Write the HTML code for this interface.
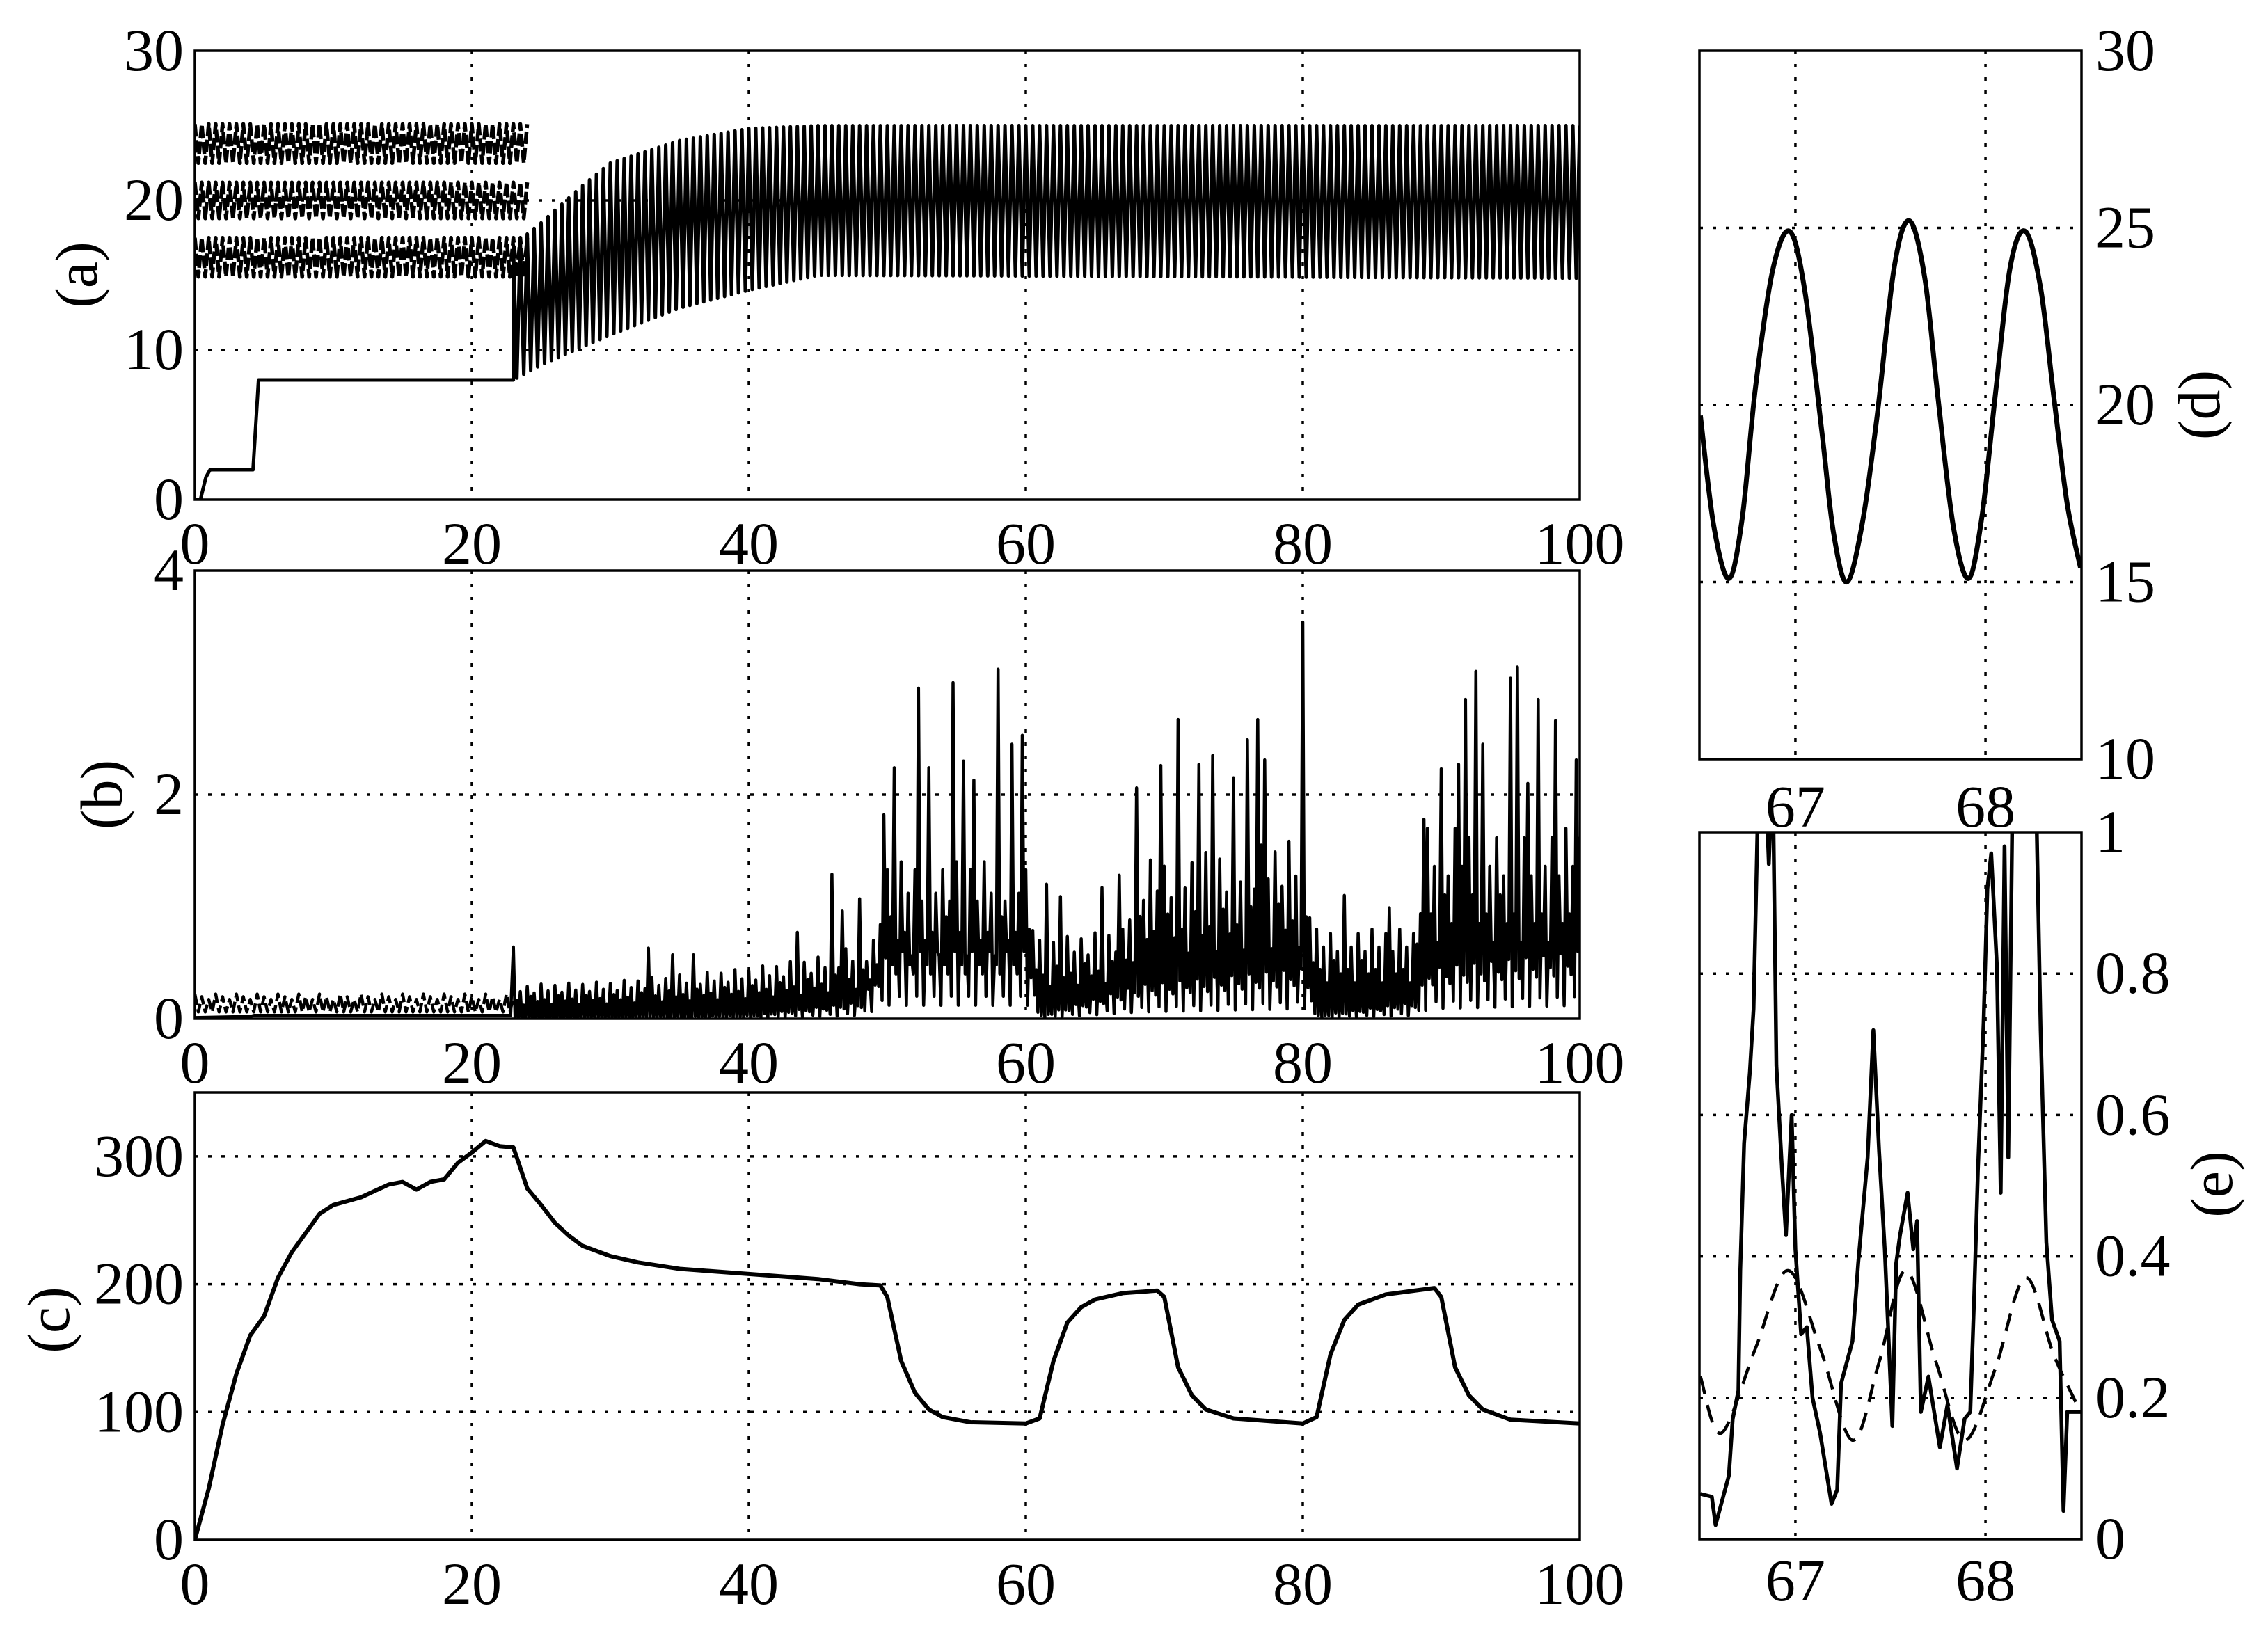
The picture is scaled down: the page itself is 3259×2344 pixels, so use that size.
<!DOCTYPE html>
<html><head><meta charset="utf-8"><style>
html,body{margin:0;padding:0;background:#fff;}
svg{display:block;}
text{font-family:"Liberation Serif","DejaVu Serif","Times New Roman",serif;font-size:86px;fill:#000;}
</style></head><body>
<svg id="chart" xmlns="http://www.w3.org/2000/svg" width="3259" height="2344" viewBox="0 0 3259 2344"></svg>
<script>
// ---------- DATA ----------
const PERIOD = 0.5;
// panel (a)
const aStepT = [0, 0.4, 0.8, 1.1, 4.2, 4.6, 23];
const aStepV = [0, 0, 1.5, 2, 2, 8, 8];
const aHiT = [23, 25, 28, 30, 35, 40, 45, 100];
const aHiV = [17, 18.5, 21, 22.5, 24, 24.8, 25, 25];
const aLoT = [23, 25, 30, 35, 40, 45, 100];
const aLoV = [8, 9, 11, 12.8, 14, 15, 14.8];
const aDashCenters = [23.8, 20, 16.2];
const aDashAmp = [1.3, 1.2, 1.3];
const aTicksY = [0, 10, 20, 30];
const xTicks = [0, 20, 40, 60, 80, 100];
// panel (b)
const bHiT = [23, 30, 40, 45, 49, 50, 60, 61, 67, 68, 80, 81, 88, 89, 100];
const bHiV = [0.3, 0.33, 0.45, 0.55, 0.7, 1.4, 1.4, 0.7, 0.8, 1.4, 1.6, 0.8, 0.8, 1.7, 1.7];
const bLoT = [23, 40, 48, 50, 60, 61, 68, 80, 81, 88, 89, 100];
const bLoV = [0.0, 0.02, 0.1, 0.4, 0.4, 0.02, 0.2, 0.3, 0.02, 0.1, 0.3, 0.4];
const bSpikeT = [22.9,32.8,34.5,35.9,43.5,45.9,46.7,47.9,49.7,50.4,52.3,53.0,54.7,55.5,56.2,57.9,59.1,59.8,61.5,62.4,65.5,66.7,68.0,69.8,71.0,72.5,73.6,74.9,76.1,76.7,77.3,80.0,83.0,86.2,88.7,90.0,91.2,91.8,92.5,93.1,94.9,95.6,96.3,96.9,98.3,98.9,99.7];
const bSpikeV = [0.64,0.63,0.57,0.57,0.77,1.29,0.96,1.07,1.82,2.24,2.95,2.24,3.0,2.3,2.13,3.12,2.45,2.53,1.2,1.09,1.17,1.28,2.06,2.26,2.67,2.27,2.35,2.15,2.49,2.67,2.31,3.54,1.1,0.99,1.78,2.23,2.27,2.85,3.1,2.45,3.04,3.14,2.1,2.85,2.66,1.67,2.31];
const bHiPattern = [1, 0.55, 0.8, 0.4, 0.95, 0.65, 0.75, 0.5];
const bLoPattern = [1, 0.5, 1.5, 0.3, 1.2];
const bTicksY = [0, 2, 4];
// panel (c)
const cT = [0,1,2,3,4,5,6,7,8,9,10,12,14,15,16,17,18,19,20,21,22,23,24,25,26,27,28,30,32,35,40,45,48,49.5,50,51,52,53,54,56,60,61,62,63,64,65,67,69.5,70,71,72,73,75,80,81,82,83,84,86,89.5,90,91,92,93,95,100];
const cV = [0,40,90,130,160,175,205,225,240,255,262,268,278,280,274,280,282,295,303,312,308,307,275,262,248,238,230,222,217,212,208,204,200,199,190,140,115,102,96,92,91,95,140,170,182,188,193,195,190,135,113,102,95,91,96,145,172,184,192,197,190,135,113,102,94,91];
const cTicksY = [0, 100, 200, 300];
// panel (d)
const dT = [66.5,66.57,66.65,66.72,66.79,66.88,66.97,67.05,67.14,67.2,67.27,67.35,67.43,67.52,67.6,67.68,67.75,67.83,67.91,67.98,68.05,68.13,68.21,68.29,68.36,68.43,68.5];
const dV = [19.7,16.6,15.1,16.8,20.5,23.8,24.9,23.2,19.2,16.4,15.0,16.6,19.7,23.9,25.2,23.6,20.2,16.6,15.1,16.8,20.2,23.9,24.9,23.3,20.2,17.2,15.4];
const dTicksY = [10, 15, 20, 25, 30];
const rTicksX = [67, 68];
// panel (e)
const eSolidT = [66.5,66.56,66.58,66.61,66.65,66.67,66.70,66.71,66.73,66.76,66.78,66.80,66.82,66.84,66.86,66.88,66.90,66.93,66.95,66.98,67.0,67.03,67.06,67.09,67.13,67.19,67.22,67.24,67.30,67.33,67.38,67.41,67.44,67.47,67.51,67.53,67.55,67.59,67.62,67.64,67.66,67.70,67.76,67.80,67.85,67.89,67.92,67.94,67.96,67.99,68.01,68.03,68.06,68.08,68.10,68.12,68.14,68.2,68.27,68.29,68.32,68.35,68.39,68.41,68.43,68.5];
const eSolidV = [0.064,0.06,0.02,0.05,0.09,0.17,0.21,0.38,0.56,0.66,0.75,1.0,1.2,1.1,0.955,1.1,0.67,0.52,0.43,0.60,0.41,0.29,0.30,0.20,0.15,0.05,0.07,0.22,0.28,0.39,0.54,0.72,0.55,0.41,0.16,0.39,0.43,0.49,0.41,0.45,0.18,0.23,0.13,0.19,0.10,0.17,0.18,0.34,0.52,0.73,0.92,0.97,0.81,0.49,0.98,0.54,1.0,1.25,1.0,0.72,0.42,0.31,0.28,0.04,0.18,0.18];
const eDashT = [66.5,66.61,66.79,66.96,67.13,67.30,67.44,67.58,67.74,67.89,68.05,68.21,68.36,68.5];
const eDashV = [0.23,0.15,0.27,0.38,0.27,0.14,0.25,0.38,0.25,0.14,0.24,0.37,0.26,0.18];
const eTicksY = [0, 0.2, 0.4, 0.6, 0.8, 1];
const eTickLabels = ["0", "0.2", "0.4", "0.6", "0.8", "1"];

// ---------- HELPERS ----------
const NS = "http://www.w3.org/2000/svg";
const svg = document.getElementById("chart");
function mk(tag, parent) { const e = document.createElementNS(NS, tag); parent.appendChild(e); return e; }
function lin(ts, vs, t) {
  if (t <= ts[0]) return vs[0];
  for (let i = 1; i < ts.length; i++) if (t <= ts[i]) { const f = (t - ts[i-1]) / (ts[i] - ts[i-1]); return vs[i-1] + f * (vs[i] - vs[i-1]); }
  return vs[vs.length - 1];
}
function scaleX(p) { return t => p.x0 + (t - p.t0) / (p.t1 - p.t0) * (p.x1 - p.x0); }
function scaleY(p) { return v => p.y1 - (v - p.v0) / (p.v1 - p.v0) * (p.y1 - p.y0); }
function polyD(pts) { return pts.map((q, i) => (i ? "L" : "M") + q[0].toFixed(1) + " " + q[1].toFixed(1)).join(""); }
function smoothD(pts) {
  let d = "M" + pts[0][0] + " " + pts[0][1];
  for (let i = 0; i < pts.length - 1; i++) {
    const p0 = pts[Math.max(i-1,0)], p1 = pts[i], p2 = pts[i+1], p3 = pts[Math.min(i+2, pts.length-1)];
    const c1 = [p1[0] + (p2[0]-p0[0])/6, p1[1] + (p2[1]-p0[1])/6];
    const c2 = [p2[0] - (p3[0]-p1[0])/6, p2[1] - (p3[1]-p1[1])/6];
    d += "C" + c1[0].toFixed(1) + " " + c1[1].toFixed(1) + " " + c2[0].toFixed(1) + " " + c2[1].toFixed(1) + " " + p2[0].toFixed(1) + " " + p2[1].toFixed(1);
  }
  return d;
}
function line(parent, x1, y1, x2, y2, w, dash) {
  const l = mk("line", parent);
  l.setAttribute("x1", x1); l.setAttribute("y1", y1); l.setAttribute("x2", x2); l.setAttribute("y2", y2);
  l.setAttribute("stroke", "#000"); l.setAttribute("stroke-width", w);
  if (dash) l.setAttribute("stroke-dasharray", dash);
  return l;
}
function txt(parent, x, y, s, anchor) {
  const t = mk("text", parent);
  t.setAttribute("x", x); t.setAttribute("y", y); t.setAttribute("text-anchor", anchor);
  t.setAttribute("font-family", "Liberation Serif, DejaVu Serif, serif");
  t.setAttribute("font-size", "86");
  t.textContent = s; return t;
}

function panel(p, name) {
  const g = mk("g", svg);
  
  
  const sx = scaleX(p), sy = scaleY(p);
  const grid = mk("g", g);
  
  
  p.gx.forEach(t => { const l = line(grid, sx(t), p.y0, sx(t), p.y1, 3.5, "5 14");   });
  p.gy.forEach(v => { const l = line(grid, p.x0, sy(v), p.x1, sy(v), 3.5, "5 14");   });
  const cp = mk("clipPath", g); cp.setAttribute("id", "clip-" + name);
  const cr = mk("rect", cp); cr.setAttribute("x", p.x0); cr.setAttribute("y", p.y0); cr.setAttribute("width", p.x1 - p.x0); cr.setAttribute("height", p.y1 - p.y0);
  const data = mk("g", g); data.setAttribute("clip-path", "url(#clip-" + name + ")");
  
  
  return { g, data, sx, sy };
}
function frame(P, p, name) {
  const b = mk("rect", P.g);
  b.setAttribute("x", p.x0); b.setAttribute("y", p.y0); b.setAttribute("width", p.x1 - p.x0); b.setAttribute("height", p.y1 - p.y0);
  b.setAttribute("fill", "none"); b.setAttribute("stroke", "#000"); b.setAttribute("stroke-width", 3.5);
  
  
}
function path(parent, d, w, dash) {
  const e = mk("path", parent);
  e.setAttribute("d", d); e.setAttribute("fill", "none"); e.setAttribute("stroke", "#000");
  e.setAttribute("stroke-width", w); e.setAttribute("stroke-linejoin", "round");
  if (dash) e.setAttribute("stroke-dasharray", dash);
  return e;
}
function leftTicks(P, p, vals, labels, name) {
  const g = mk("g", P.g);
  
  
  vals.forEach((v, i) => { const t = txt(g, p.x0 - 16, P.sy(v) + 28, labels ? labels[i] : String(v), "end");   });
}
function rightTicks(P, p, vals, labels, name) {
  const g = mk("g", P.g);
  
  
  vals.forEach((v, i) => { const t = txt(g, p.x1 + 20, P.sy(v) + 28, labels ? labels[i] : String(v), "start");   });
}
function bottomTicks(P, p, vals, base, name) {
  const g = mk("g", P.g);
  
  
  vals.forEach(v => { const t = txt(g, P.sx(v), base, String(v), "middle");   });
}
function axisLabel(x, y, s, name) {
  const t = txt(svg, x, y, s, "middle");
  t.setAttribute("transform", "rotate(-90 " + x + " " + y + ")");
  t.setAttribute("dominant-baseline", "central");
  
  
}

// ---------- PANEL A ----------
const pa = { x0: 280, x1: 2270, y0: 73, y1: 718, t0: 0, t1: 100, v0: 0, v1: 30, gx: [20,40,60,80], gy: [10,20] };
const A = panel(pa, "panel-a");
aDashCenters.forEach((c, k) => {
  const pts = []; let i = 0;
  for (let t = 0; t <= 24; t += PERIOD / 2, i++) pts.push([A.sx(t), A.sy(c + (i % 2 ? -aDashAmp[k] : aDashAmp[k]))]);
  const e = path(A.data, polyD(pts), 5.5, "18 5");
  
  
});
{
  const pts = aStepT.map((t, i) => [A.sx(t), A.sy(aStepV[i])]);
  let i = 0;
  for (let t = 23; t <= 100; t += PERIOD / 2, i++) pts.push([A.sx(t), A.sy(i % 2 ? lin(aLoT, aLoV, t) : lin(aHiT, aHiV, t))]);
  const e = path(A.data, polyD(pts), 5);
  
  
}
frame(A, pa, "panel-a");
leftTicks(A, pa, aTicksY, null, "panel-a");
bottomTicks(A, pa, xTicks, 810, "panel-a");
axisLabel(110, 395, "(a)", "y-axis-title-a");

// ---------- PANEL B ----------
const pb = { x0: 280, x1: 2270, y0: 820, y1: 1464, t0: 0, t1: 100, v0: 0, v1: 4, gx: [20,40,60,80], gy: [2] };
const B = panel(pb, "panel-b");
{
  const pts = []; let i = 0;
  for (let t = 0; t <= 23; t += PERIOD / 2, i++) pts.push([B.sx(t), B.sy(i % 2 ? 0.06 : 0.22 - (i % 6) * 0.012)]);
  const e = path(B.data, polyD(pts), 4.5, "16 6");
  
  
}
{
  const pts = [[B.sx(0), B.sy(0.01)], [B.sx(4), B.sy(0.02)], [B.sx(4.3), B.sy(0.03)], [B.sx(22.8), B.sy(0.03)]];
  let k = 0;
  const step = PERIOD / 2;
  for (let t = 23; t <= 100; t += step, k++) {
    let hi = lin(bHiT, bHiV, t) * bHiPattern[k % bHiPattern.length];
    bSpikeT.forEach((st, j) => { if (Math.abs(st - t) < step / 2) hi = Math.max(hi, bSpikeV[j]); });
    const lo = Math.max(0, lin(bLoT, bLoV, t) * bLoPattern[k % bLoPattern.length]);
    pts.push([B.sx(t), B.sy(hi)]);
    pts.push([B.sx(t + step / 2), B.sy(lo)]);
  }
  const e = path(B.data, polyD(pts), 4.5);
  
  
}
frame(B, pb, "panel-b");
leftTicks(B, pb, bTicksY, null, "panel-b");
bottomTicks(B, pb, xTicks, 1556, "panel-b");
axisLabel(146, 1142, "(b)", "y-axis-title-b");

// ---------- PANEL C ----------
const pc = { x0: 280, x1: 2270, y0: 1570, y1: 2213, t0: 0, t1: 100, v0: 0, v1: 350, gx: [20,40,60,80], gy: [100,200,300] };
const C = panel(pc, "panel-c");
{
  const e = path(C.data, polyD(cT.map((t, i) => [C.sx(t), C.sy(cV[i])])), 6);
  
  
}
frame(C, pc, "panel-c");
leftTicks(C, pc, cTicksY, null, "panel-c");
bottomTicks(C, pc, xTicks, 2305, "panel-c");
axisLabel(70, 1897, "(c)", "y-axis-title-c");

// ---------- PANEL D ----------
const pd = { x0: 2442, x1: 2991, y0: 73, y1: 1091, t0: 66.495, t1: 68.505, v0: 10, v1: 30, gx: [67,68], gy: [15,20,25] };
const D = panel(pd, "panel-d");
{
  const e = path(D.data, smoothD(dT.map((t, i) => [D.sx(t), D.sy(dV[i])])), 7);
  
  
}
frame(D, pd, "panel-d");
rightTicks(D, pd, dTicksY, null, "panel-d");
bottomTicks(D, pd, rTicksX, 1188, "panel-d");
axisLabel(3160, 582, "(d)", "y-axis-title-d");

// ---------- PANEL E ----------
const pe = { x0: 2442, x1: 2991, y0: 1196, y1: 2212, t0: 66.495, t1: 68.505, v0: 0, v1: 1, gx: [67,68], gy: [0.2,0.4,0.6,0.8] };
const E = panel(pe, "panel-e");
{
  const e1 = path(E.data, smoothD(eDashT.map((t, i) => [E.sx(t), E.sy(eDashV[i])])), 4.5, "26 16");
  
  
  const e2 = path(E.data, polyD(eSolidT.map((t, i) => [E.sx(t), E.sy(eSolidV[i])])), 5.5);
  
  
}
frame(E, pe, "panel-e");
rightTicks(E, pe, eTicksY, eTickLabels, "panel-e");
bottomTicks(E, pe, rTicksX, 2300, "panel-e");
axisLabel(3178, 1702, "(e)", "y-axis-title-e");
</script>
</body></html>
